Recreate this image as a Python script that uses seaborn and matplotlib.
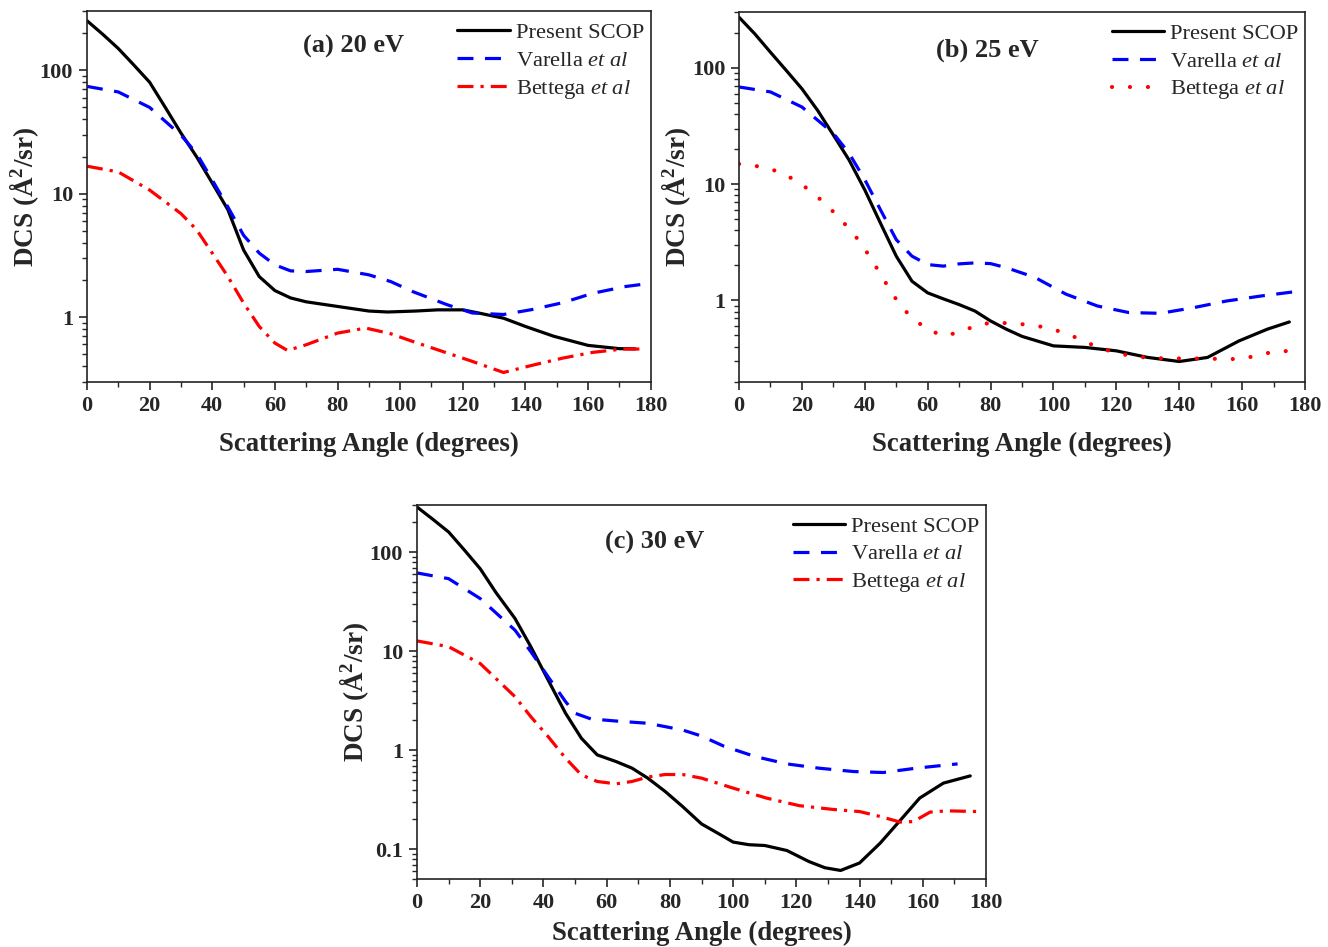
import numpy as np
import pandas as pd
import matplotlib
matplotlib.use("Agg")
import matplotlib.pyplot as plt
from matplotlib.ticker import LogLocator, FuncFormatter, MultipleLocator, NullFormatter
import seaborn as sns

# ---- digitised curves (angle in degrees, DCS in A^2/sr) ----
# (a) 20 eV
ANG_A_SCOP = [0, 5, 10, 15, 20, 25, 30, 35, 40, 45, 50, 55, 60, 65, 70, 80, 90, 96, 105, 112, 120, 125, 133, 140,
              149, 160, 170, 175]
SCOP_A = [252, 196, 150, 110, 80, 50, 31, 19.9, 12.2, 7.4, 3.5, 2.13, 1.64, 1.43, 1.33, 1.22, 1.12, 1.10, 1.12,
          1.145, 1.145, 1.08, 0.98, 0.84, 0.70, 0.59, 0.555, 0.553]
ANG_A_VAR = [0, 10, 20, 30, 35, 40, 45, 50, 55, 60, 65, 70, 80, 90, 97, 104, 115, 123, 133, 142, 152, 161.5, 172, 180]
VAR_A = [74, 66.7, 50, 29.8, 21.2, 12.9, 7.8, 4.6, 3.3, 2.65, 2.37, 2.34, 2.44, 2.2, 1.94, 1.61, 1.26, 1.08, 1.05,
         1.15, 1.31, 1.56, 1.77, 1.88]
ANG_A_BET = [0, 10, 20, 30, 35, 40, 45, 50, 55, 60, 64, 70, 80, 89, 97, 104, 115, 123, 133, 142, 152, 161.5, 171, 177]
BET_A = [16.7, 15.0, 10.7, 6.9, 5.1, 3.3, 2.13, 1.3, 0.84, 0.616, 0.537, 0.597, 0.742, 0.815, 0.733, 0.635, 0.512,
         0.438, 0.356, 0.406, 0.466, 0.518, 0.551, 0.551]

# (b) 25 eV
ANG_B_SCOP = [0, 5, 10, 15, 20, 25, 30, 35, 40, 45, 50, 55, 60, 65, 70, 75, 80, 85, 90, 100, 110, 120, 130, 140,
              149, 159, 168, 175]
SCOP_B = [272, 196, 136, 95, 66, 43, 26.4, 16.1, 8.9, 4.6, 2.4, 1.46, 1.16, 1.03, 0.92, 0.81, 0.665, 0.565, 0.49,
          0.406, 0.394, 0.368, 0.323, 0.298, 0.323, 0.448, 0.565, 0.652]
ANG_B_VAR = [0, 10, 20, 30, 35, 40, 45, 50, 55, 60, 65, 70, 75, 80, 85, 94, 104, 114, 124, 134, 144.5, 155, 166, 176]
VAR_B = [68.4, 62, 46, 27.3, 18.4, 10.9, 6.0, 3.33, 2.4, 2.03, 1.97, 2.06, 2.10, 2.07, 1.91, 1.58, 1.13, 0.894,
         0.785, 0.774, 0.865, 0.987, 1.09, 1.18]
ANG_B_BET = [0, 7, 12.6, 18.2, 23.7, 29.4, 34.1, 38.6, 42.3, 45.7, 49.2, 53.6, 59.3, 64.9, 70.6, 76.2, 82.1, 87.6,
             93.1, 98.9, 104.8, 108.7, 114.3, 120, 125.6, 131.2, 137, 143, 148, 154, 160, 165, 171, 177]
BET_B = [14.9, 14.1, 12.8, 10.7, 8.36, 6.0, 4.4, 3.16, 2.21, 1.56, 1.09, 0.774, 0.573, 0.495, 0.535, 0.624, 0.644,
         0.63, 0.615, 0.573, 0.512, 0.457, 0.394, 0.352, 0.33, 0.319, 0.317, 0.316, 0.316, 0.313, 0.313, 0.338,
         0.366, 0.366]

# (c) 30 eV
ANG_C_SCOP = [0, 5, 10, 15, 20, 25, 31, 36, 41.5, 47, 52, 57, 63, 68, 73, 78.5, 84, 90, 95, 100, 105, 110, 117,
              124, 129, 134, 140, 146.5, 153, 159, 166.5, 175]
SCOP_C = [286, 215, 160, 105, 68, 39, 21.4, 11.1, 5.1, 2.36, 1.32, 0.897, 0.767, 0.659, 0.522, 0.383, 0.27, 0.18,
          0.146, 0.118, 0.111, 0.109, 0.097, 0.075, 0.065, 0.061, 0.0726, 0.115, 0.198, 0.328, 0.465, 0.55]
ANG_C_VAR = [0, 10, 20, 31, 36, 41.5, 47, 50, 55, 63, 73, 84, 90, 97, 107, 117, 127, 138, 147.5, 158, 168, 171]
VAR_C = [61.7, 54, 34, 16.3, 9.9, 5.5, 3.09, 2.36, 2.07, 1.97, 1.87, 1.60, 1.39, 1.10, 0.862, 0.727, 0.659, 0.609,
         0.595, 0.659, 0.711, 0.727]
ANG_C_BET = [0, 10, 20, 31, 36, 41.5, 47, 52, 57, 63, 68, 73, 78.5, 84, 90, 100, 110.6, 121, 131.7, 140, 146.5,
             152.8, 157, 162.3, 167.6, 177.6]
BET_C = [12.7, 11.1, 7.5, 3.47, 2.18, 1.37, 0.83, 0.563, 0.483, 0.457, 0.483, 0.535, 0.568, 0.568, 0.522, 0.414,
         0.328, 0.275, 0.252, 0.24, 0.214, 0.188, 0.19, 0.237, 0.244, 0.24]

TITLES = ["(a) 20 eV", "(b) 25 eV", "(c) 30 eV"]
LABELS = ["Present SCOP", r"Varella $\mathit{et\ al}$", r"Bettega $\mathit{et\ al}$"]

sns.set_theme(style="ticks")
plt.rcParams.update({
    "font.family": ["Liberation Serif", "DejaVu Serif"],
    "mathtext.fontset": "custom",
    "mathtext.rm": "Liberation Serif",
    "mathtext.it": "Liberation Serif:italic",
    "mathtext.bf": "Liberation Serif:bold",
    "axes.linewidth": 1.2,
    "axes.edgecolor": "#222222",
})

SOLID = dict(color="black", linewidth=2.3, linestyle="-")
DASH = dict(color="#0000ff", linewidth=2.3, linestyle=(0, (5, 3.6)))
DASHDOT = dict(color="#ff0000", linewidth=2.3, linestyle=(0, (5, 2.2, 1, 2.2)))
DOT = dict(color="#ff0000", linewidth=3.0, linestyle=(0, (0.01, 4.3)), dash_capstyle="round")

panels = [
    dict(rect=[0.0655, 0.597, 0.4245, 0.391], ylim=(0.3, 300), title_xy=(0.472, 0.905), xpad=12,
         series=[(ANG_A_SCOP, SCOP_A, SOLID), (ANG_A_VAR, VAR_A, DASH), (ANG_A_BET, BET_A, DASHDOT)]),
    dict(rect=[0.5565, 0.597, 0.4262, 0.390], ylim=(0.2, 300), title_xy=(0.438, 0.897), xpad=12,
         series=[(ANG_B_SCOP, SCOP_B, SOLID), (ANG_B_VAR, VAR_B, DASH), (ANG_B_BET, BET_B, DOT)]),
    dict(rect=[0.314, 0.0718, 0.4285, 0.395], ylim=(0.05, 300), title_xy=(0.418, 0.901), xpad=6,
         series=[(ANG_C_SCOP, SCOP_C, SOLID), (ANG_C_VAR, VAR_C, DASH), (ANG_C_BET, BET_C, DASHDOT)]),
]

fig = plt.figure(figsize=(13.28, 9.47), dpi=100)

for p, title in zip(panels, TITLES):
    ax = fig.add_axes(p["rect"])
    for (ang, val, sty), lab in zip(p["series"], LABELS):
        df = pd.DataFrame({"angle": ang, "dcs": val})
        sns.lineplot(data=df, x="angle", y="dcs", ax=ax, label=lab, errorbar=None, sort=False, **sty)
    ax.set_yscale("log")
    ax.set_xlim(0, 180)
    ax.set_ylim(*p["ylim"])
    ax.xaxis.set_major_locator(MultipleLocator(20))
    ax.xaxis.set_minor_locator(MultipleLocator(10))
    ax.yaxis.set_major_locator(LogLocator(base=10))
    ax.yaxis.set_minor_locator(LogLocator(base=10, subs=np.arange(2, 10)))
    ax.yaxis.set_major_formatter(FuncFormatter(lambda v, _: f"{v:g}"))
    ax.yaxis.set_minor_formatter(NullFormatter())
    ax.tick_params(which="major", direction="out", length=6, width=1.2, labelsize=16, pad=4)
    ax.tick_params(which="minor", direction="out", length=3.5, width=1.0)
    for lbl in ax.get_xticklabels() + ax.get_yticklabels():
        lbl.set_fontweight("bold")
    ax.set_xlabel("Scattering Angle (degrees)", fontsize=19.3, fontweight="bold", labelpad=p["xpad"])
    ax.set_ylabel(r"DCS (Å$^{\mathbf{2}}$/sr)", fontsize=19.5, fontweight="bold", labelpad=-1)
    ax.text(*p["title_xy"], title, transform=ax.transAxes, ha="center", va="center",
            fontsize=19, fontweight="bold")
    ax.legend(loc="upper right", bbox_to_anchor=(1.0, 0.988), frameon=False, fontsize=16.2,
              handlelength=2.35, handletextpad=0.25, labelspacing=0.3, borderaxespad=0.0, borderpad=0.3)

fig.savefig("out.png", dpi=100)
